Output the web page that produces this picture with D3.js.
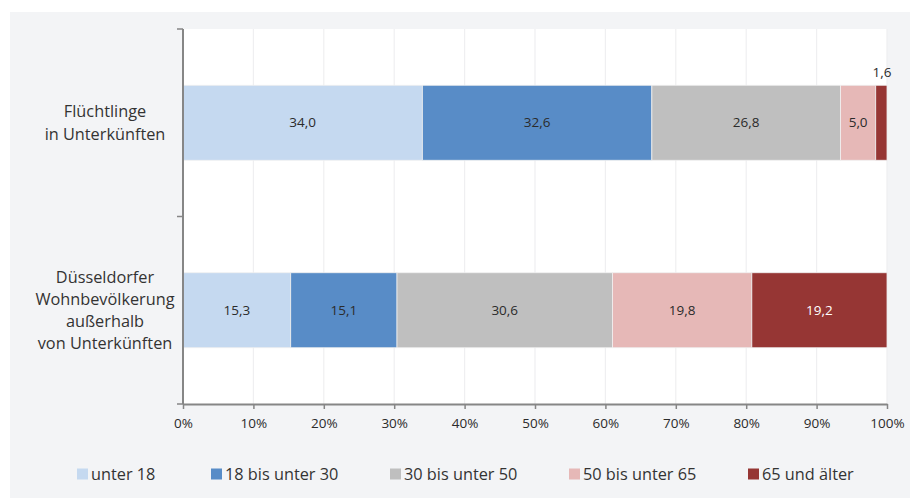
<!DOCTYPE html>
<html><head><meta charset="utf-8">
<script src="https://cdn.jsdelivr.net/npm/d3@7"></script>
<style>
html,body{margin:0;padding:0;background:#fff;}
svg{display:block;font-family:"Open Sans",sans-serif;}
</style></head>
<body>
<svg id="chart" width="910" height="498"></svg>
<script>
const categories = ["Flüchtlinge\nin Unterkünften", "Düsseldorfer\nWohnbevölkerung\naußerhalb\nvon Unterkünften"];
const seriesNames = ["unter 18", "18 bis unter 30", "30 bis unter 50", "50 bis unter 65", "65 und älter"];
const seriesColors = ["#c5d9f0", "#588cc7", "#bfbfbf", "#e6b8b7", "#963634"];
const fluechtlinge = [34.0, 32.6, 26.8, 5.0, 1.6];
const wohnbevoelkerung = [15.3, 15.1, 30.6, 19.8, 19.2];
const xTicks = [0, 10, 20, 30, 40, 50, 60, 70, 80, 90, 100];

const values = [fluechtlinge, wohnbevoelkerung];
const svg = d3.select("#chart");
const W = 910, H = 498;
const margin = {left: 183, right: 23, top: 29, bottom: 94};

svg.append("rect").attr("x", 10).attr("y", 12).attr("width", W - 10).attr("height", H - 12).attr("fill", "#f3f4f6");

const x = d3.scaleLinear().domain([0, 100]).range([margin.left, W - margin.right]);
const y = d3.scaleBand().domain(d3.range(categories.length)).range([margin.top, H - margin.bottom]).paddingInner(0.6).paddingOuter(0.3);

svg.append("rect").attr("x", x(0)).attr("y", margin.top).attr("width", x(100) - x(0)).attr("height", H - margin.bottom - margin.top).attr("fill", "#fff");

// gridlines
svg.append("g").selectAll("line").data(xTicks.slice(1)).join("line")
  .attr("x1", d => x(d)).attr("x2", d => x(d))
  .attr("y1", margin.top).attr("y2", H - margin.bottom)
  .attr("stroke", "#efeff1").attr("stroke-width", 1.2);

// stacked bars
const rows = values.map((vals, i) => {
  let acc = 0;
  return vals.map((v, j) => { const s = {row: i, series: j, v, x0: acc, x1: acc + v}; acc += v; return s; });
});
const segs = rows.flat();
svg.append("g").selectAll("rect").data(segs).join("rect")
  .attr("x", d => x(d.x0)).attr("width", d => x(d.x1) - x(d.x0))
  .attr("y", d => y(d.row)).attr("height", y.bandwidth())
  .attr("fill", d => seriesColors[d.series])
  .attr("stroke", "#f0f0f0").attr("stroke-width", 0.8);

const fmt = v => v.toFixed(1).replace(".", ",");
svg.append("g").selectAll("text").data(segs).join("text")
  .attr("x", d => d.v < 3 ? x(d.x1) - 5 : x((d.x0 + d.x1) / 2))
  .attr("y", d => d.v < 3 ? y(d.row) - 13 : y(d.row) + y.bandwidth() / 2)
  .attr("dy", "0.35em")
  .attr("text-anchor", "middle")
  .attr("font-size", 13.5)
  .attr("fill", d => (d.series === 4 && d.v >= 3) ? "#ffffff" : "#2b2b2b")
  .text(d => fmt(d.v));

// x axis
const xAxis = d3.axisBottom(x).tickValues(xTicks).tickFormat(d => d + "%").tickSize(5).tickSizeOuter(0);
const gx = svg.append("g").attr("transform", `translate(0,${H - margin.bottom})`).call(xAxis);
gx.select(".domain").attr("stroke", "#868686").attr("stroke-width", 2);
gx.selectAll(".tick line").attr("stroke", "#868686").attr("stroke-width", 1.5);
gx.selectAll(".tick text").attr("font-size", 13.5).attr("fill", "#2b2b2b").attr("font-family", "Open Sans").attr("dy", "1.15em");

// y axis (category boundaries)
const yAxis = svg.append("g");
yAxis.append("line").attr("x1", x(0)).attr("x2", x(0)).attr("y1", margin.top).attr("y2", H - margin.bottom)
  .attr("stroke", "#868686").attr("stroke-width", 2);
const bounds = [margin.top, (margin.top + H - margin.bottom) / 2, H - margin.bottom];
yAxis.selectAll("line.t").data(bounds).join("line").attr("class", "t")
  .attr("x1", x(0) - 6).attr("x2", x(0)).attr("y1", d => d).attr("y2", d => d)
  .attr("stroke", "#868686").attr("stroke-width", 1.5);

// category labels
const lh = 22.3;
categories.forEach((c, i) => {
  const lines = c.split("\n");
  const cy = y(i) + y.bandwidth() / 2;
  const t = svg.append("text").attr("text-anchor", "middle").attr("font-size", 16.3).attr("fill", "#333");
  lines.forEach((l, k) => {
    t.append("tspan").attr("x", 105).attr("y", cy + (k - (lines.length - 1) / 2) * lh).attr("dy", "0.35em").text(l);
  });
});

// legend
const legendX = [77, 211, 390, 569, 748];
const lg = svg.append("g").selectAll("g").data(seriesNames).join("g")
  .attr("transform", (d, i) => `translate(${legendX[i]},474)`);
lg.append("rect").attr("x", 0).attr("y", -5.5).attr("width", 11).attr("height", 11).attr("fill", (d, i) => seriesColors[i]);
lg.append("text").attr("x", 14).attr("dy", "0.35em").attr("font-size", 16.3).attr("fill", "#333").text(d => d);
</script>
</body></html>
